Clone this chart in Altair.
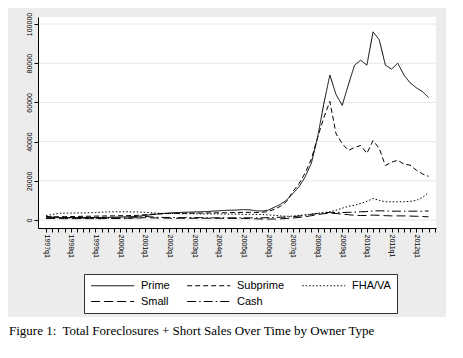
import altair as alt
import pandas as pd

# ---- data (quarterly, 1997q1 .. 2012q3) ----
start_year = 1997
prime = [1100, 1150, 1200, 1200, 1250, 1250, 1300, 1300, 1300, 1300, 1350, 1400,
         1500, 1600, 1700, 1900, 2300, 2700, 3000, 3300, 3600, 3800, 3900, 4000,
         4100, 4200, 4300, 4500, 4700, 4900, 5000, 5100, 5300, 5200, 4700, 4600,
         5000, 6500, 8000, 10200, 13500, 17000, 22000, 29000, 42000, 59000, 74000, 64000,
         58500, 69000, 79000, 81500, 79000, 96000, 92000, 79000, 77000, 80000, 74000, 70000,
         67500, 65500, 62500]
subprime = [1500, 1600, 1700, 1700, 1800, 1800, 1900, 1900, 2000, 2000, 2100, 2100,
            2200, 2200, 2300, 2400, 2700, 2900, 3100, 3200, 3300, 3300, 3400, 3400,
            3500, 3500, 3600, 3600, 3700, 3700, 3800, 3800, 3900, 3900, 3800, 3900,
            4300, 5500, 7000, 9500, 14500, 18500, 24000, 31000, 42000, 52000, 60500, 44000,
            39000, 35500, 37000, 38000, 34000, 40500, 36500, 27800, 29500, 30500, 28500, 28000,
            25500, 23500, 22300]
fhava = [2200, 2800, 3400, 3500, 3500, 3600, 3600, 3700, 3800, 4000, 4100, 4200,
         4200, 4200, 4100, 4100, 3900, 3700, 3500, 3400, 3300, 3300, 3200, 3200,
         3200, 3100, 3100, 3100, 3100, 3000, 3000, 3000, 2900, 2900, 2800, 2800,
         2600, 2400, 2100, 1900, 2000, 2300, 2700, 3000, 3400, 3800, 4200, 5000,
         6000, 7000, 7500, 8500, 9500, 11000, 10000, 9300, 9300, 9300, 9300, 9500,
         10000, 11500, 14000]
small = [800, 800, 700, 700, 700, 700, 700, 700, 700, 700, 800, 800,
         800, 900, 900, 1000, 1200, 1100, 1000, 1000, 900, 900, 900, 900,
         900, 900, 900, 900, 900, 900, 800, 800, 800, 700, 600, 500,
         500, 500, 600, 800, 1000, 1300, 1700, 2200, 2800, 3200, 3500, 3300,
         3000, 2700, 2400, 2300, 2300, 2500, 2400, 2200, 2100, 2100, 2100, 2000,
         1900, 1800, 1600]
cash = [1800, 1500, 1300, 1200, 1100, 1000, 1000, 900, 900, 900, 900, 900,
        1000, 1000, 1100, 1200, 1800, 1600, 1400, 1300, 1300, 1200, 1200, 1200,
        1200, 1200, 1100, 1100, 1100, 1100, 1100, 1100, 1100, 1100, 1100, 1100,
        1200, 1300, 1400, 1500, 1700, 2000, 2400, 2900, 3300, 3700, 3900, 3800,
        3800, 3900, 4000, 4200, 4300, 4600, 4700, 4600, 4500, 4500, 4500, 4500,
        4500, 4500, 4600]

series_names = ["Prime", "Subprime", "FHA/VA", "Small", "Cash"]
series_values = [prime, subprime, fhava, small, cash]
dash_styles = {"Prime": [1, 0], "Subprime": [5, 3], "FHA/VA": [1.5, 2],
               "Small": [9, 4], "Cash": [9, 3, 1.5, 3]}
# legend is filled column by column: Prime/Small, Subprime/Cash, FHA/VA
legend_order = ["Prime", "Small", "Subprime", "Cash", "FHA/VA"]
y_ticks = [0, 20000, 40000, 60000, 80000, 100000]
caption = "Figure 1:\u00a0 Total Foreclosures + Short Sales Over Time by Owner Type"

rows = []
for name, vals in zip(series_names, series_values):
    for i, v in enumerate(vals):
        rows.append({"q": i, "type": name, "value": v})
df = pd.DataFrame(rows)

W, H = 398, 211
FONT = "Liberation Sans"

xscale = alt.Scale(domain=[-1.3, 63.2], nice=False, zero=False)
yscale = alt.Scale(domain=[-4082, 103571], nice=False, zero=False)

one = alt.Data(values=[{}])

gray_bg = alt.Chart(one).mark_rect(color="#ececec").encode(
    x=alt.value(-30), x2=alt.value(408), y=alt.value(-9), y2=alt.value(300))
white_plot = alt.Chart(one).mark_rect(color="white").encode(
    x=alt.value(0), x2=alt.value(W), y=alt.value(0), y2=alt.value(H))

grid = alt.Chart(pd.DataFrame({"t": y_ticks})).mark_rule(
    color="#e6e6e6", strokeWidth=1).encode(
    y=alt.Y("t:Q", scale=yscale), x=alt.value(0), x2=alt.value(W))

label_expr = ("datum.value % 4 == 0 ? (" + str(start_year) +
              " + floor(datum.value / 4)) + 'q1' : ''")

lines = alt.Chart(df).mark_line(strokeWidth=1, color="black").encode(
    x=alt.X("q:Q", scale=xscale, title=None,
            axis=alt.Axis(values=list(range(0, 64)), labelExpr=label_expr,
                          labelAngle=90, labelFontSize=7, labelFont=FONT,
                          labelOverlap=False, labelFlush=False, labelBound=False,
                          tickSize=4, labelPadding=2, grid=False, zindex=1,
                          domainColor="black", tickColor="black", labelColor="black")),
    y=alt.Y("value:Q", scale=yscale, title=None,
            axis=alt.Axis(values=y_ticks, format="d", labelAngle=270,
                          labelFontSize=7, labelFont=FONT, tickSize=4, labelPadding=2,
                          grid=False, zindex=1, labelFlush=False,
                          domainColor="black", tickColor="black", labelColor="black")),
    strokeDash=alt.StrokeDash(
        "type:N",
        scale=alt.Scale(domain=legend_order,
                        range=[dash_styles[n] for n in legend_order]),
        sort=legend_order,
        legend=alt.Legend(title=None, orient="none", legendX=46, legendY=257,
                          columns=3, symbolType="M-1,0H9", symbolSize=74,
                          symbolStrokeWidth=1, symbolStrokeColor="black",
                          symbolFillColor="transparent",
                          labelFontSize=11, labelFont=FONT, labelColor="black",
                          labelOffset=40, columnPadding=15, rowPadding=4,
                          padding=6, fillColor="white", strokeColor="#333333",
                          zindex=1)),
    detail="type:N",
)

cap = alt.Chart(alt.Data(values=[{"t": caption}])).mark_text(
    align="left", baseline="alphabetic", font="Liberation Serif", fontSize=13,
    color="black").encode(x=alt.value(-29), y=alt.value(318), text="t:N")

chart = alt.layer(gray_bg, white_plot, grid, lines, cap).properties(
    width=W, height=H,
    autosize=alt.AutoSizeParams(type="none"),
    padding={"left": 30, "top": 9, "right": 10, "bottom": 112},
    background="white",
).configure_view(stroke=None)

chart.save("out.html", embed_options={"renderer": "svg", "actions": False})
